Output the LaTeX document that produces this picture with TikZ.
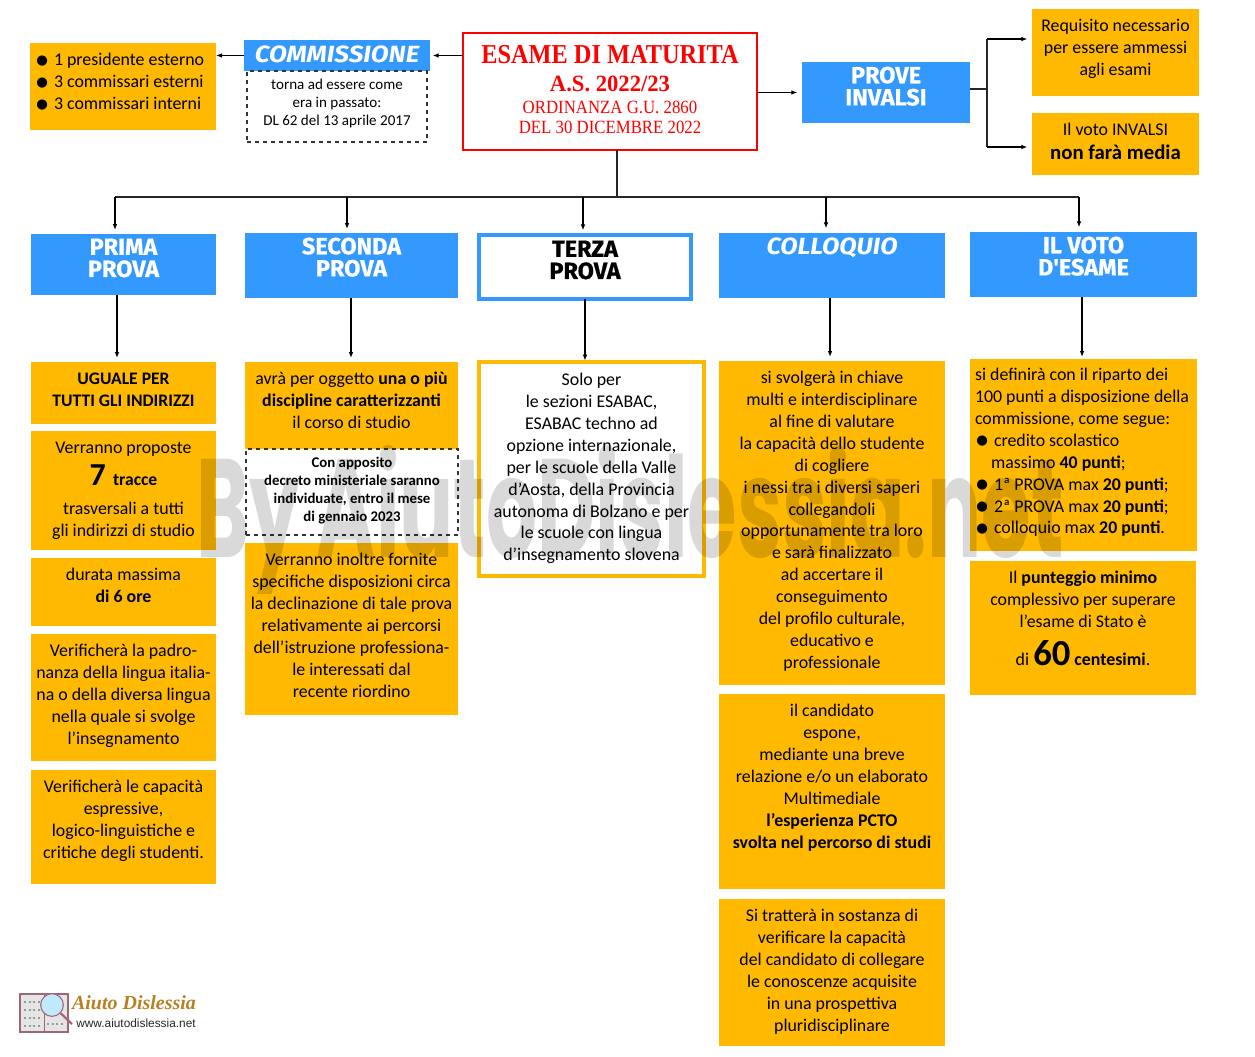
\documentclass[tikz,border=0pt]{standalone}
\usepackage{fontspec}
\setmainfont{Carlito}
\newfontfamily\symf{DejaVu Sans}
\newfontfamily\headf[BoldFeatures={FakeBold=0.6}]{Fira Sans}
\newfontfamily\titlef{Liberation Serif}
\newfontfamily\wmf{Poppins}
\newfontfamily\urlf{Liberation Sans}
\definecolor{yel}{HTML}{FFB900}
\definecolor{blu}{HTML}{3399FF}
\newcommand{\bul}{\makebox[15.75pt][l]{\hspace{2.5pt}\raisebox{1.2pt}{\symf\fontsize{10}{10}\selectfont ●}}}
\newcommand{\bx}[8][]{%
 \pgfmathsetlengthmacro{\bw}{(#5-#3)*0.75pt}%
 \pgfmathsetlengthmacro{\bh}{(#6-#4)*0.75pt}%
 \pgfmathsetlengthmacro{\bd}{(#7-#4-8.4)*0.75pt}%
 \pgfmathsetlengthmacro{\bt}{(#5-#3-6)*0.75pt}%
 \node[boxbase,#1,minimum width=\bw,minimum height=\bh] (#2) at ({(#3+#5)/2},{(#4+#6)/2})
 {\parbox[c][\bh][t]{\bt}{\lineskiplimit=-100pt\relax\vspace*{\bd}\centering\strut #8}};}
\tikzset{
 boxbase/.style={inner sep=0pt,outer sep=0pt,font=\fontsize{13.4}{16.4}\selectfont,text=black},
 yelbox/.style={fill=yel},
 blubox/.style={fill=blu,text=white,font=\headf\bfseries\fontsize{17.6}{16.6}\selectfont},
 dashbox/.style={draw=black!80,dashed,line width=0.9pt,fill=white},
 conn/.style={draw=black,line width=0.9pt,-{Latex[length=4.5pt,width=3.5pt]}},
 plain/.style={draw=black!85,line width=0.9pt},
}
\usetikzlibrary{arrows.meta}
\begin{document}
\begin{tikzpicture}[x=0.75pt,y=-0.75pt]
\useasboundingbox (0,0) rectangle (1255,1056);
% top row
\bx[yelbox]{list}{30}{43}{216}{130}{59}{\raggedright\bul 1 presidente esterno\\\bul 3 commissari esterni\\\bul 3 commissari interni}
\bx[blubox]{comm}{244}{40}{430}{71}{54}{\itshape\scalebox{1.11}[1]{COMMISSIONE}}
\bx[dashbox,font=\fontsize{11.3}{13.6}\selectfont]{tor}{247}{71}{427}{142}{85}{torna ad essere come\\era in passato:\\DL 62 del 13 aprile 2017}
\bx[draw=red,line width=1.9pt,fill=white,text=red,font=\titlef\fontsize{14}{16}\selectfont]{main}{463}{33}{757}{150}{54}{{\bfseries\fontsize{20.5}{20}\selectfont\scalebox{.89}[1]{ESAME DI MATURITA}}\\[5pt]{\bfseries\fontsize{17.5}{16}\selectfont\scalebox{.97}[1]{A.S. 2022/23}}\\[0pt]\scalebox{.9}[1]{ORDINANZA G.U. 2860}\\[-.3pt]\scalebox{.9}[1]{DEL 30 DICEMBRE 2022}}
\bx[blubox]{prove}{802}{62}{970}{123}{75}{PROVE\\INVALSI}
\bx[yelbox]{req}{1032}{9}{1199}{96}{25}{Requisito necessario\\per essere ammessi\\agli esami}
\bx[yelbox]{vinv}{1032}{113}{1199}{175}{129}{Il voto INVALSI\\[1.5pt]{\bfseries\fontsize{15.6}{16}\selectfont non farà media}}
% headers
\bx[blubox]{h1}{31}{234}{216}{295}{247}{PRIMA\\PROVA}
\bx[blubox]{h2}{245}{233}{458}{298}{246}{SECONDA\\PROVA}
\bx[draw=blu,line width=3pt,fill=white,font=\headf\bfseries\fontsize{17.6}{16.6}\selectfont]{h3}{479}{235}{691}{299}{249}{TERZA\\PROVA}
\bx[blubox]{h4}{719}{233}{945}{298}{246}{\itshape\scalebox{1.08}[1]{COLLOQUIO}}
\bx[blubox]{h5}{970}{232}{1197}{297}{245}{IL VOTO\\D'ESAME}
% column 1
\bx[yelbox,font=\bfseries\fontsize{13.2}{16.4}\selectfont]{a1}{31}{362}{216}{424}{378}{UGUALE PER\\TUTTI GLI INDIRIZZI}
\bx[yelbox]{a2}{31}{431}{216}{550}{447}{Verranno proposte\\[7pt]{\bfseries\fontsize{24}{24}\selectfont 7 \fontsize{13.2}{16}\selectfont tracce}\\[6pt]trasversali a tutti\\gli indirizzi di studio}
\bx[yelbox]{a3}{31}{558}{216}{626}{574}{durata massima\\\textbf{di 6 ore}}
\bx[yelbox]{a4}{31}{634}{216}{761}{650}{Verificherà la padro-\\nanza della lingua italia-\\na o della diversa lingua\\nella quale si svolge\\l’insegnamento}
\bx[yelbox]{a5}{31}{770}{216}{884}{786}{Verificherà le capacità\\espressive,\\logico-linguistiche e\\critiche degli studenti.}
% column 2
\bx[yelbox]{b1}{245}{362}{458}{449}{378}{avrà per oggetto \textbf{una o più}\\\textbf{discipline caratterizzanti}\\il corso di studio}
\bx[dashbox,font=\bfseries\fontsize{11.1}{13.5}\selectfont]{b2}{246}{449}{458}{535}{463}{Con apposito\\decreto ministeriale saranno\\individuate, entro il mese\\di gennaio 2023}
\bx[yelbox]{b3}{245}{543}{458}{715}{559}{Verranno inoltre fornite\\specifiche disposizioni circa\\la declinazione di tale prova\\relativamente ai percorsi\\dell’istruzione professiona-\\le interessati dal\\recente riordino}
% column 3
\bx[draw=yel,line width=3pt,fill=white]{c1}{479}{362}{704}{576}{379}{Solo per\\le sezioni ESABAC,\\ESABAC techno ad\\opzione internazionale,\\per le scuole della Valle\\d’Aosta, della Provincia\\autonoma di Bolzano e per\\le scuole con lingua\\d’insegnamento slovena}
% column 4
\bx[yelbox]{d1}{719}{361}{945}{685}{377}{si svolgerà in chiave\\multi e interdisciplinare\\al fine di valutare\\la capacità dello studente\\di cogliere\\i nessi tra i diversi saperi\\collegandoli\\opportunamente tra loro\\e sarà finalizzato\\ad accertare il\\conseguimento\\del profilo culturale,\\educativo e\\professionale}
\bx[yelbox]{d2}{719}{694}{945}{889}{710}{il candidato\\espone,\\mediante una breve\\relazione e/o un elaborato\\Multimediale\\\textbf{l'esperienza PCTO}\\\textbf{svolta nel percorso di studi}}
\bx[yelbox]{d3}{719}{899}{945}{1046}{915}{Si tratterà in sostanza di\\verificare la capacità\\del candidato di collegare\\le conoscenze acquisite\\in una prospettiva\\pluridisciplinare}
% column 5
\bx[yelbox]{e1}{970}{359}{1197}{551}{374}{\raggedright\hspace*{1.5pt}si definirà con il riparto dei\\\hspace*{1.5pt}100 punti a disposizione della\\\hspace*{1.5pt}commissione, come segue:\\\bul credito scolastico\\\hspace*{13.5pt}massimo \textbf{40 punti};\\\bul 1ª PROVA max \textbf{20 punti};\\\bul 2ª PROVA max \textbf{20 punti};\\\bul colloquio max \textbf{20 punti}.}
\bx[yelbox]{e2}{970}{561}{1196}{695}{577}{Il \textbf{punteggio minimo}\\complessivo per superare\\l’esame di Stato è\\[12pt]di {\bfseries\fontsize{27.5}{26}\selectfont 60} \textbf{centesimi}.}
% connector anchors
\coordinate (bus) at (987,89);
\coordinate (bustop) at (987,39);
\coordinate (busbot) at (987,147);
\coordinate (tr) at (617,197);
\coordinate (t1) at (115,197);
\coordinate (t2) at (347,197);
\coordinate (t3) at (583,197);
\coordinate (t4) at (826,197);
\coordinate (t5) at (1079,197);
\coordinate (x1) at (117,330);
\coordinate (x2) at (351,330);
\coordinate (x3) at (585,330);
\coordinate (x4) at (830,330);
\coordinate (x5) at (1082,330);
% connectors
\draw[conn,shorten >=2pt] (main.west |- comm.east) -- (comm.east);
\draw[conn] (comm.west) -- (list.east |- comm.west);
\draw[conn,shorten >=3.5pt] (main.east |- prove.west) -- (prove.west);
\draw[plain] (prove.east |- bus) -- (bus);
\draw[plain] (bustop) -- (busbot);
\draw[conn,shorten >=3.5pt] (bustop) -- (req.west |- bustop);
\draw[conn,shorten >=3.5pt] (busbot) -- (vinv.west |- busbot);
\draw[plain] (main.south -| tr) -- (tr);
\draw[plain] (t1) -- (t5);
\draw[conn,shorten >=3pt] (t1) -- (h1.north -| t1);
\draw[conn,shorten >=3pt] (t2) -- (h2.north -| t2);
\draw[conn,shorten >=3.5pt] (t3) -- (h3.north -| t3);
\draw[conn,shorten >=3.5pt] (t4) -- (h4.north -| t4);
\draw[conn,shorten >=3.5pt] (t5) -- (h5.north -| t5);
\draw[conn,shorten >=3pt] (h1.south -| x1) -- (a1.north -| x1);
\draw[conn,shorten >=3pt] (h2.south -| x2) -- (b1.north -| x2);
\draw[conn,shorten >=1pt] (h3.south -| x3) -- (c1.north -| x3);
\draw[conn,shorten >=3pt] (h4.south -| x4) -- (d1.north -| x4);
\draw[conn,shorten >=1.5pt] (h5.south -| x5) -- (e1.north -| x5);
% watermark
\node[inner sep=0pt,text=black,text opacity=0.15] (wm) at (630,520)
 {\scalebox{0.573}[1]{\wmf\bfseries\fontsize{105}{105}\selectfont By AiutoDislessia.net}};
% logo
\draw[draw=black!50!purple!60,fill=black!10,line width=0.8pt] (20,994) rectangle (68,1032);
\draw[draw=black!50!purple!60,line width=0.6pt] (44,994) -- (44,1032);
\draw[draw=black!40,line width=1.5pt,dotted] (24,1002) -- (41,1002) (24,1010) -- (41,1010) (24,1018) -- (41,1018) (24,1026) -- (41,1026) (47,1024) -- (65,1024);
\node[circle,draw=black!50!purple!60,fill=cyan!25,line width=0.8pt,minimum size=17pt,inner sep=0pt] (lens) at (52,1005) {};
\coordinate (handle) at (72,1024);
\draw[draw=black!50!purple!60,line width=1.6pt] (lens) -- (handle);
\node[inner sep=0pt,text={rgb,255:red,184;green,128;blue,35}] (lt) at (134,1003) {\titlef\bfseries\itshape\fontsize{15}{15}\selectfont Aiuto Dislessia};
\node[inner sep=0pt,text=black!85] (lu) at (136,1023) {\urlf\fontsize{8.9}{10}\selectfont www.aiutodislessia.net};
\end{tikzpicture}
\end{document}
